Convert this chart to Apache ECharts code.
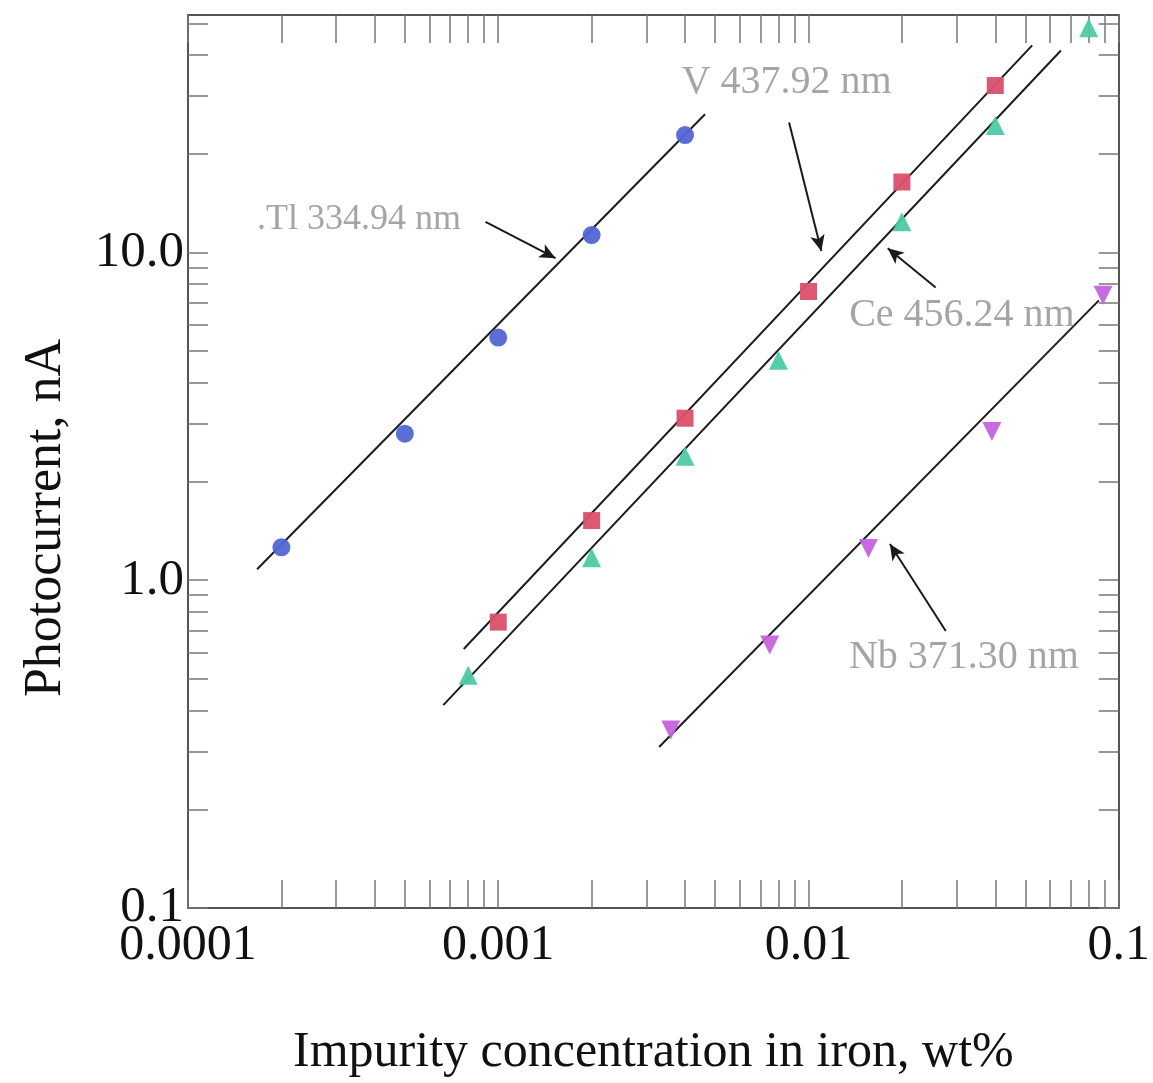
<!DOCTYPE html>
<html>
<head>
<meta charset="utf-8">
<script src="https://cdn.jsdelivr.net/npm/echarts@6/dist/echarts.min.js"></script>
<style>
  html, body { margin: 0; padding: 0; background: #ffffff; }
  #chart { width: 1153px; height: 1083px; }
</style>
</head>
<body>
<div id="chart"></div>
<script>
// Axis decades and their printed labels
const xTickValues = [0.0001, 0.001, 0.01, 0.1];
const xTickLabels = ['0.0001', '0.001', '0.01', '0.1'];
const yTickValues = [0.1, 1, 10];
const yTickLabels = ['0.1', '1.0', '10.0'];
const xRange = [0.0001, 0.1];
const yRange = [0.1, 53];

// Calibration points: impurity concentration (wt%) vs photocurrent (nA)
const tiConc = [0.0002, 0.0005, 0.001, 0.002, 0.004];
const tiCurrent = [1.26, 2.8, 5.5, 11.3, 22.8];

const vConc = [0.001, 0.002, 0.004, 0.01, 0.02, 0.04];
const vCurrent = [0.745, 1.52, 3.12, 7.6, 16.4, 32.3];

const ceConc = [0.0008, 0.002, 0.004, 0.008, 0.02, 0.04, 0.08];
const ceCurrent = [0.513, 1.17, 2.39, 4.69, 12.4, 24.4, 48.5];

const nbConc = [0.0036, 0.0075, 0.0156, 0.039, 0.089];
const nbCurrent = [0.349, 0.634, 1.25, 2.84, 7.4];

// Straight calibration lines (end points, same units)
const tiLine = [[0.000167, 1.08], [0.00464, 26.4]];
const vLine = [[0.000774, 0.617], [0.0526, 42.8]];
const ceLine = [[0.000665, 0.416], [0.0651, 41.3]];
const nbLine = [[0.0033, 0.31], [0.0863, 7.14]];

// Line labels: text, where the text starts, arrow tail and arrow head
const lineNames = ['.Tl 334.94 nm', 'V 437.92 nm', 'Ce 456.24 nm', 'Nb 371.30 nm'];
const nameAt = [[0.000167, 12.6], [0.0039, 33.0], [0.01352, 6.43], [0.0135, 0.582]];
const arrowTail = [[0.00091, 12.4], [0.00866, 24.9], [0.0257, 7.82], [0.0277, 0.70]];
const arrowHead = [[0.00153, 9.6], [0.011, 10.1], [0.018, 10.3], [0.0183, 1.29]];
const nameSize = [36, 40, 40, 40];

const SERIF = '"Liberation Serif", "DejaVu Serif", serif';

// inside ticks at 1..9 of every decade within the range
function decadeTicks(lo, hi) {
  const out = [];
  for (let d = lo; d < hi * 1.0001; d *= 10) {
    for (let m = 1; m <= 9; m++) {
      const v = m * d;
      if (v >= lo * 0.9999 && v <= hi * 1.0001) out.push(v);
    }
  }
  return out;
}
const xMinor = decadeTicks(xRange[0], xRange[1]);
const yMinor = decadeTicks(yRange[0], yRange[1]);

function labelFor(values, labels) {
  return function (v) {
    let best = 0, bd = Infinity;
    values.forEach(function (t, i) {
      const d = Math.abs(Math.log10(t) - Math.log10(v));
      if (d < bd) { bd = d; best = i; }
    });
    return labels[best];
  };
}

const frameLine = { show: true, onZero: false, lineStyle: { color: '#555555', width: 2 } };
const tickStyle = { color: '#777777', width: 1.5 };

function xAxisDef(position, withLabels) {
  return {
    type: 'log', logBase: 10, position: position,
    min: xRange[0], max: xRange[1],
    axisLine: frameLine,
    axisTick: { show: true, inside: true, length: 28, customValues: xMinor, lineStyle: tickStyle },
    axisLabel: {
      show: withLabels, customValues: xTickValues,
      formatter: labelFor(xTickValues, xTickLabels),
      fontFamily: SERIF, fontSize: 50, color: '#111111', margin: 13
    },
    splitLine: { show: false },
    name: withLabels ? 'Impurity concentration in iron, wt%' : '',
    nameLocation: 'middle', nameGap: 120,
    nameTextStyle: { fontFamily: SERIF, fontSize: 50, color: '#111111' }
  };
}

function yAxisDef(position, withLabels) {
  return {
    type: 'log', logBase: 10, position: position,
    min: yRange[0], max: yRange[1],
    axisLine: frameLine,
    axisTick: { show: true, inside: true, length: 20, customValues: yMinor, lineStyle: tickStyle },
    axisLabel: {
      show: withLabels, customValues: yTickValues,
      formatter: labelFor(yTickValues, yTickLabels),
      fontFamily: SERIF, fontSize: 51, color: '#111111', margin: 4
    },
    splitLine: { show: false }
  };
}

function pairs(xs, ys) { return xs.map(function (x, i) { return [x, ys[i]]; }); }

function fitSeries(name, pts) {
  return {
    name: name, type: 'line', data: pts, symbol: 'none', silent: true, z: 2,
    lineStyle: { color: '#1c1c1c', width: 2 }, animation: false
  };
}

function pointSeries(name, xs, ys, symbol, size, color, rotate) {
  return {
    name: name, type: 'scatter', data: pairs(xs, ys), symbol: symbol,
    symbolSize: size, symbolRotate: rotate || 0, z: 4,
    itemStyle: { color: color, opacity: 0.95 }, animation: false
  };
}

const annotationSeries = {
  name: 'labels', type: 'scatter', symbolSize: 0, silent: true, z: 5, animation: false,
  data: lineNames.map(function (n, i) {
    return {
      name: n, value: nameAt[i],
      label: { fontSize: nameSize[i] }
    };
  }),
  label: {
    show: true, position: 'right', distance: 0, formatter: '{b}',
    fontFamily: SERIF, color: '#8e8e8e'
  },
  markLine: {
    silent: true, animation: false,
    symbol: ['none', 'arrow'], symbolSize: [11, 16],
    lineStyle: { color: '#1a1a1a', width: 2, type: 'solid' },
    label: { show: false },
    data: arrowTail.map(function (t, i) {
      return [{ coord: t }, { coord: arrowHead[i] }];
    })
  }
};

const chart = echarts.init(document.getElementById('chart'), null, { renderer: 'canvas' });
chart.setOption({
  backgroundColor: '#ffffff',
  animation: false,
  grid: { left: 188, right: 29, top: 15, bottom: 174, containLabel: false },
  xAxis: [xAxisDef('bottom', true), xAxisDef('top', false)],
  yAxis: [yAxisDef('left', true), yAxisDef('right', false)],
  graphic: [{
    type: 'text', x: 46, y: 518, rotation: Math.PI / 2,
    style: {
      text: 'Photocurrent, nA', fontFamily: SERIF, fontSize: 52,
      fill: '#111111', align: 'center', verticalAlign: 'middle'
    }
  }],
  series: [
    fitSeries('Tl fit', tiLine),
    fitSeries('V fit', vLine),
    fitSeries('Ce fit', ceLine),
    fitSeries('Nb fit', nbLine),
    pointSeries('Tl 334.94 nm', tiConc, tiCurrent, 'circle', 18, '#5166d4'),
    pointSeries('V 437.92 nm', vConc, vCurrent, 'rect', 17, '#da4f6b'),
    pointSeries('Ce 456.24 nm', ceConc, ceCurrent, 'triangle', 19, '#4ccaa6'),
    pointSeries('Nb 371.30 nm', nbConc, nbCurrent, 'triangle', 19, '#c563df', 180),
    annotationSeries
  ]
});
</script>
</body>
</html>
